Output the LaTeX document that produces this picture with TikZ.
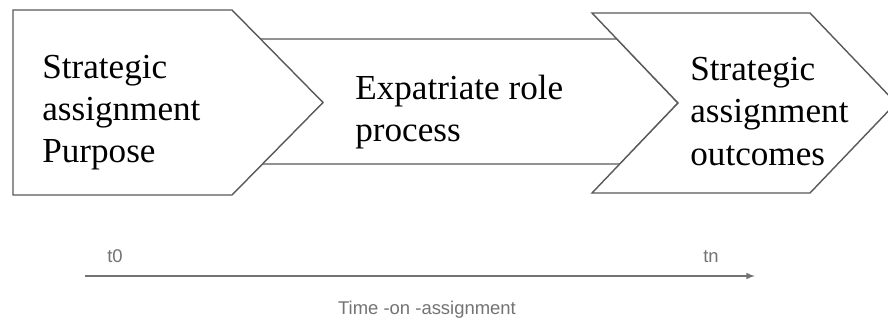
\documentclass[tikz,border=0pt]{standalone}
\usepackage{fontspec}
\setmainfont{Liberation Serif}
\newfontfamily\axisfont{Liberation Sans}
\usepackage{tikz}
\usetikzlibrary{positioning}
\tikzset{>=latex}
\tikzset{shp/.style={draw=black!65,line width=0.8pt,fill=white},
  lbl/.style={anchor=west,align=left,inner sep=0pt,font=\fontsize{20}{24}\selectfont},
  ax/.style={black!55,font=\axisfont\fontsize{10.5}{12}\selectfont}}

\begin{document}
\begin{tikzpicture}
\useasboundingbox (0,0) rectangle (17.76,-6.44);
\draw[shp] (5,-0.78) -- (12.34,-0.78) -- (13.56,-2.06) -- (12.4,-3.28) -- (5,-3.28) -- cycle;
\draw[shp] (0.26,-0.2) -- (4.64,-0.2) -- (6.46,-2.05) -- (4.64,-3.9) -- (0.26,-3.9) -- cycle;
\draw[shp] (11.84,-0.26) -- (16.2,-0.26) -- (17.92,-2.06) -- (16.2,-3.86) -- (11.84,-3.86) -- (13.56,-2.06) -- cycle;
\node[lbl] (P) at (0.84,-2.25) {Strategic\\assignment\\Purpose};
\node[lbl] (E) at (7.1,-2.24) {Expatriate role\\process};
\node[lbl] (O) at (13.8,-2.23) {Strategic\\assignment\\outcomes};
\coordinate (s) at (1.7,-5.52);
\coordinate (e) at (15.1,-5.52);
\draw[->,black!55,line width=0.7pt] (s) -- (e);
\node[ax] (t0) at (2.3,-5.12) {t0};
\node[ax] (tn) at (14.22,-5.13) {tn};
\node[ax] (T) at (8.54,-6.2) {Time -on -assignment};
\end{tikzpicture}
\end{document}
